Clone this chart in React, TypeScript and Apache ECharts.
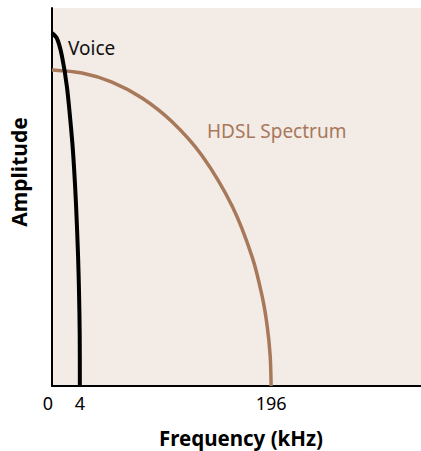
import React, { useEffect, useRef } from 'react';
import * as echarts from 'echarts';

// Frequency axis is drawn schematically (not to scale): a power transform of kHz.
const X_EXP = 0.53;
const freqTicks = [0, 4, 196];
const xMaxKHz = 524;

const voiceFreq = [0, 0.16, 0.58, 1.25, 2.14, 2.57, 3.02, 3.52, 3.78, 3.96, 4];
const voiceAmp = [0.934, 0.919, 0.872, 0.789, 0.654, 0.578, 0.481, 0.347, 0.247, 0.136, 0];

const hdslFreq = [0, 4.6, 17, 36.6, 63, 96, 135.4, 165.3, 181.2, 189.4, 194.4, 196];
const hdslAmp = [0.836, 0.828, 0.804, 0.762, 0.699, 0.609, 0.476, 0.341, 0.237, 0.159, 0.08, 0];

const seriesNames = ['Voice', 'HDSL Spectrum'];
const xTitle = 'Frequency (kHz)';
const yTitle = 'Amplitude';

const tx = (f: number) => Math.pow(f, X_EXP);
const FONT = '"Noto Sans", "Open Sans", sans-serif';

export default function App() {
  const ref = useRef<HTMLDivElement>(null);
  useEffect(() => {
    if (!ref.current) return;
    const chart = echarts.init(ref.current, null, { renderer: 'svg' });
    chart.setOption({
      animation: false,
      grid: { left: 52, right: 0, top: 8, bottom: 65, show: true, backgroundColor: '#f3ebe5', borderWidth: 0 },
      xAxis: {
        type: 'value',
        min: 0,
        max: tx(xMaxKHz),
        axisLine: { show: true, onZero: false, lineStyle: { color: '#000', width: 2 } },
        axisTick: { show: false },
        splitLine: { show: false },
        axisLabel: {
          customValues: freqTicks.map(tx),
          formatter: (v: number) => {
            const f = Math.round(Math.pow(v, 1 / X_EXP));
            return f === 0 ? '{z|0}' : String(f);
          },
          rich: { z: { padding: [0, 8, 0, 0], fontSize: 18, fontFamily: FONT, color: '#000' } },
          color: '#000',
          fontSize: 18,
          fontFamily: FONT,
          margin: 8,
        },
      },
      yAxis: {
        type: 'value',
        min: 0,
        max: 1,
        axisLine: { show: true, lineStyle: { color: '#000', width: 2 } },
        axisTick: { show: false },
        axisLabel: { show: false },
        splitLine: { show: false },
      },
      series: [
        {
          name: seriesNames[1],
          type: 'line',
          showSymbol: false,
          smooth: 0.3,
          lineStyle: { color: '#a8785a', width: 3.5 },
          data: hdslFreq.map((f, i) => [tx(f), hdslAmp[i]]),
        },
        {
          name: seriesNames[0],
          type: 'line',
          showSymbol: false,
          smooth: 0.3,
          lineStyle: { color: '#000', width: 4 },
          data: voiceFreq.map((f, i) => [tx(f), voiceAmp[i]]),
        },
      ],
      graphic: [
        {
          type: 'text', x: 68, y: 48,
          style: { text: seriesNames[0], fontSize: 19, fontFamily: FONT, fill: '#111', verticalAlign: 'middle' },
        },
        {
          type: 'text', x: 207, y: 131,
          style: { text: seriesNames[1], fontSize: 19, fontFamily: FONT, fill: '#a8785a', verticalAlign: 'middle' },
        },
        {
          type: 'text', x: 241, y: 438,
          style: { text: xTitle, fontSize: 20.5, fontWeight: 'bold', fontFamily: FONT, fill: '#000', align: 'center', verticalAlign: 'middle' },
        },
        {
          type: 'text', x: 19, y: 172, rotation: Math.PI / 2,
          style: { text: yTitle, fontSize: 21, fontWeight: 'bold', fontFamily: FONT, fill: '#000', align: 'center', verticalAlign: 'middle' },
        },
      ],
    });
    return () => chart.dispose();
  }, []);
  return <div ref={ref} style={{ position: 'absolute', left: 0, top: 0, width: 421, height: 451 }} />;
}
